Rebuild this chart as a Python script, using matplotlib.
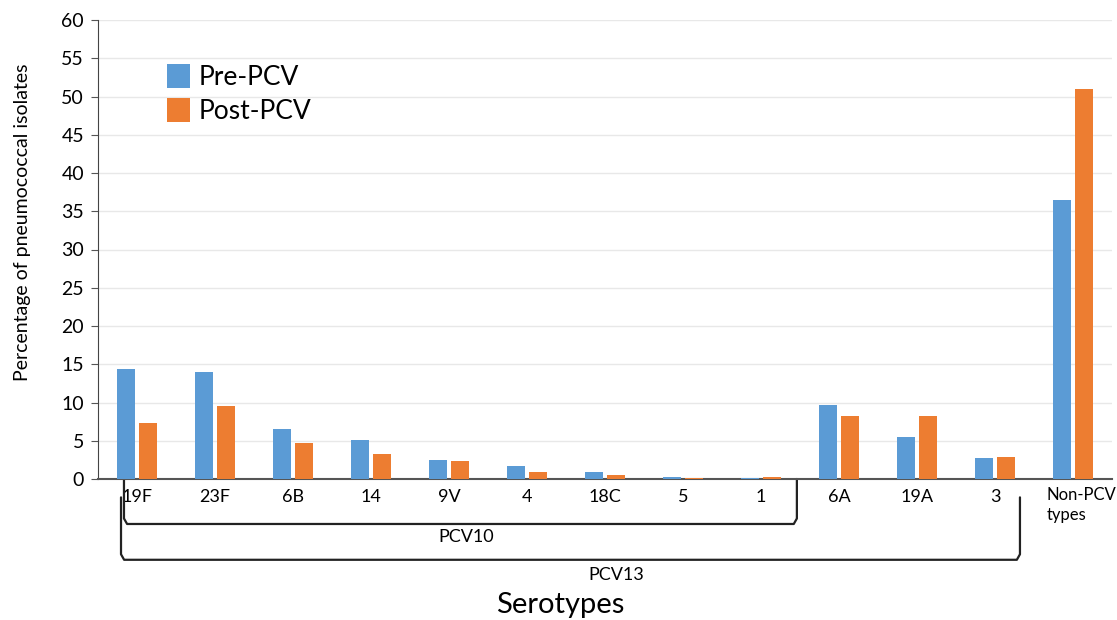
import matplotlib.pyplot as plt
import matplotlib.transforms as mtransforms
import numpy as np

serotypes = ["19F", "23F", "6B", "14", "9V", "4", "18C", "5", "1", "6A", "19A", "3", "Non-PCV\ntypes"]
pre_pcv = [14.4, 14.0, 6.5, 5.1, 2.5, 1.7, 0.9, 0.3, 0.1, 9.7, 5.5, 2.7, 36.5]
post_pcv = [7.3, 9.5, 4.7, 3.3, 2.4, 0.9, 0.5, 0.15, 0.25, 8.2, 8.3, 2.9, 51.0]

plt.rcParams['font.family'] = ['Lato', 'DejaVu Sans']

fig = plt.figure(figsize=(11.17, 6.2), dpi=100)
ax = fig.add_axes([98 / 1117, 1 - 479 / 620, 1014 / 1117, 459 / 620])

x = np.arange(len(serotypes))
w = 0.23
ax.bar(x - 0.145, pre_pcv, w, color="#5B9BD5", label="Pre-PCV", zorder=3)
ax.bar(x + 0.145, post_pcv, w, color="#ED7D31", label="Post-PCV", zorder=3)

ax.set_xlim(-0.5, 12.5)
ax.set_ylim(0, 60)
ax.set_yticks(range(0, 61, 5))
ax.tick_params(axis='y', labelsize=14, length=5, color="#555555", pad=5)
ax.set_xticks(x)
# last label is drawn by hand so it can hang off to the right
ax.set_xticklabels(serotypes[:-1] + [""], fontsize=13)
ax.tick_params(axis='x', length=0, pad=7)
ax.grid(axis='y', color="#e8e8e8", lw=1, zorder=0)
for s in ["top", "right"]:
    ax.spines[s].set_visible(False)
ax.spines["left"].set_color("#444444")
ax.spines["bottom"].set_color("#555555")
ax.spines["bottom"].set_linewidth(1.5)

ax.set_ylabel("Percentage of pneumococcal isolates", fontsize=14)
ax.yaxis.set_label_coords(-0.066, 0.56)
fig.text(560 / 1117, 1 - 605 / 620, "Serotypes", fontsize=21, ha="center", va="center")

ax.legend(loc="upper left", bbox_to_anchor=(0.045, 0.955), frameon=False, fontsize=19,
          handlelength=0.85, handleheight=1.0, handletextpad=0.35, labelspacing=0.3)

trans = mtransforms.blended_transform_factory(ax.transData, ax.transAxes)
ax.text(11.66, -0.018, serotypes[-1], transform=trans, ha="left", va="top",
        fontsize=12, linespacing=1.3)


def bracket(x0, x1, ytop, ybot):
    r = 0.012
    xs = [x0, x0, x0 + 0.04, x1 - 0.04, x1, x1]
    ys = [ytop, ybot + r, ybot, ybot, ybot + r, ytop]
    ax.plot(xs, ys, color="#222222", lw=1.6, transform=trans, clip_on=False,
            solid_joinstyle="round", solid_capstyle="round")


bracket(-0.167, 8.46, 0.0, -0.098)
bracket(-0.205, 11.32, -0.04, -0.176)
ax.text(4.22, -0.126, "PCV10", transform=trans, ha="center", va="center", fontsize=13)
ax.text(6.15, -0.209, "PCV13", transform=trans, ha="center", va="center", fontsize=13)

fig.savefig("out.png", dpi=100)
